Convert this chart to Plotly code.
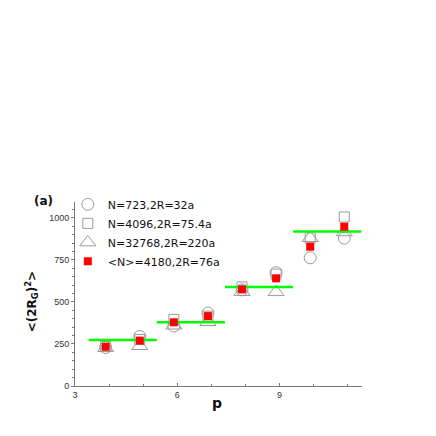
import plotly.graph_objects as go

p = [3.9, 4.9, 5.9, 6.9, 7.9, 8.9, 9.9, 10.9]
n723 = [229, 295, 357, 434, 572, 674, 763, 880]
n4096 = [235, 277, 396, 416, 590, 666, 881, 1006]
n32768 = [226, 238, 360, 381, 560, 559, 881, 915]
n4180 = [233, 270, 379, 416, 575, 641, 829, 948]

green_x0 = [3.4, 5.4, 7.4, 9.4]
green_x1 = [5.4, 7.4, 9.4, 11.4]
green_y = [274, 380, 589, 920]

names = ["N=723,2R=32a", "N=4096,2R=75.4a", "N=32768,2R=220a", "<N>=4180,2R=76a"]

FONT = "Liberation Sans, Arial, sans-serif"
WIDE = "DejaVu Sans, sans-serif"
GRAY = "#9a9a9a"

fig = go.Figure()
fig.add_trace(go.Scatter(x=p, y=n723, mode="markers", name=names[0],
                         marker=dict(symbol="circle-open", size=12, color=GRAY, line=dict(width=1, color=GRAY))))
fig.add_trace(go.Scatter(x=p, y=n4096, mode="markers", name=names[1],
                         marker=dict(symbol="square-open", size=10, color=GRAY, line=dict(width=1, color=GRAY))))
fig.add_trace(go.Scatter(x=p, y=n32768, mode="markers", name=names[2],
                         marker=dict(symbol="triangle-up-open", size=14, color=GRAY, line=dict(width=1, color=GRAY))))

gx, gy = [], []
for a, b, v in zip(green_x0, green_x1, green_y):
    gx += [a, b, None]
    gy += [v, v, None]
fig.add_trace(go.Scatter(x=gx, y=gy, mode="lines", showlegend=False,
                         line=dict(color="#00ff00", width=2.5)))

fig.add_trace(go.Scatter(x=p, y=n4180, mode="markers", name=names[3],
                         marker=dict(symbol="square", size=8, color="#ff0000", line=dict(width=0))))

fig.update_layout(
    width=436, height=436,
    margin=dict(l=67, r=82, t=194, b=58),
    paper_bgcolor="white", plot_bgcolor="white",
    font=dict(family=FONT, size=9, color="#222"),
    showlegend=True,
    legend=dict(x=-0.025, y=1.066, xanchor="left", yanchor="top",
                bgcolor="rgba(0,0,0,0)", font=dict(family=WIDE, size=11, color="#111"),
                tracegroupgap=0, itemwidth=30),
    xaxis=dict(range=[3, 11.42], tickvals=[3, 6, 9], showgrid=False, zeroline=False,
               showline=True, linecolor="#777", linewidth=1,
               ticks="inside", ticklen=3, tickcolor="#777",
               minor=dict(dtick=1, tick0=3, ticks="inside", ticklen=2, tickcolor="#777"),
               tickfont=dict(size=9, color="#333")),
    yaxis=dict(range=[0, 1095], tickvals=[0, 250, 500, 750, 1000], showgrid=False, zeroline=False,
               showline=True, linecolor="#777", linewidth=1,
               ticks="outside", ticklen=3, tickcolor="#777",
               minor=dict(dtick=50, tick0=0, ticks="outside", ticklen=2, tickcolor="#777"),
               tickfont=dict(size=9, color="#333")),
    annotations=[
        dict(text="<b>(a)</b>", x=-0.15, y=1.005, xref="paper", yref="paper",
             xanchor="left", yanchor="middle", showarrow=False,
             font=dict(family=WIDE, size=12, color="#111")),
        dict(text="<b>p</b>", x=0.495, y=-0.095, xref="paper", yref="paper",
             xanchor="center", yanchor="middle", showarrow=False,
             font=dict(family=WIDE, size=14, color="#111")),
        dict(text="<b>&lt;(2R<sub>G</sub>)<sup>2</sup>&gt;</b>", x=-0.15, y=0.46, xref="paper", yref="paper",
             xanchor="center", yanchor="middle", textangle=-90, showarrow=False,
             font=dict(family=WIDE, size=12, color="#111")),
    ],
)

fig.write_html("out.html")
